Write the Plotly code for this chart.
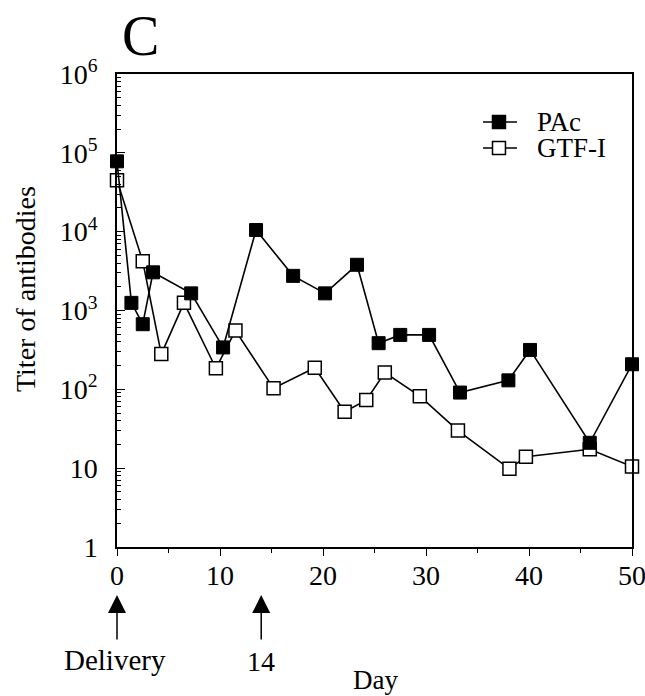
import plotly.graph_objects as go

# ---- data ----
pac_days = [0, 1.4, 2.5, 3.5, 7.2, 10.3, 13.5, 17.1, 20.2, 23.3, 25.4, 27.5, 30.3, 33.3, 38.0, 40.1, 45.9, 50]
pac_titer = [78000, 1250, 670, 3050, 1650, 340, 10500, 2750, 1650, 3800, 385, 490, 490, 91, 130, 316, 21, 208]

gtf_days = [0, 2.5, 4.3, 6.5, 9.6, 11.5, 15.2, 19.2, 22.1, 24.2, 26.0, 29.4, 33.1, 38.1, 39.7, 45.9, 50]
gtf_titer = [45000, 4200, 280, 1250, 185, 556, 103, 188, 52, 73, 163, 82, 30, 9.8, 14, 17.4, 10.5]

series_names = ["PAc", "GTF-I"]
x_ticks = [0, 10, 20, 30, 40, 50]
y_tickvals = [1, 10, 100, 1000, 10000, 100000, 1000000]
y_ticktext = ["1", "10", "10<sup>2</sup>", "10<sup>3</sup>", "10<sup>4</sup>", "10<sup>5</sup>", "10<sup>6</sup>"]

FONT = "Liberation Serif, Times New Roman, serif"
FS = 28

fig = go.Figure()
fig.add_trace(go.Scatter(
    x=gtf_days, y=gtf_titer, name=series_names[1], mode="lines+markers",
    line=dict(color="black", width=1.6),
    marker=dict(symbol="square", size=13, color="white", line=dict(color="black", width=1.5)),
    cliponaxis=False, showlegend=False,
))
fig.add_trace(go.Scatter(
    x=pac_days, y=pac_titer, name=series_names[0], mode="lines+markers",
    line=dict(color="black", width=1.6),
    marker=dict(symbol="square", size=13, color="black", line=dict(color="black", width=1)),
    cliponaxis=False, showlegend=False,
))

fig.update_layout(
    width=645, height=696,
    margin=dict(l=117, r=13, t=74, b=149, autoexpand=False),
    paper_bgcolor="white", plot_bgcolor="white",
    font=dict(family=FONT, size=FS, color="black"),
    showlegend=False,
    xaxis=dict(range=[0, 50], tickvals=x_ticks, ticks="outside", ticklen=7, tickwidth=1.3,
               tickcolor="black", showline=True, linecolor="black", linewidth=1.5, mirror=True,
               showgrid=False, zeroline=False, automargin=False, ticklabelstandoff=-4,
               ticklabeloverflow="allow",
               minor=dict(ticks="outside", ticklen=4, dtick=5, tickcolor="black", showgrid=False)),
    yaxis=dict(type="log", range=[0, 6], tickvals=y_tickvals, ticktext=y_ticktext,
               ticks="inside", ticklen=8, tickwidth=1.3, tickcolor="black",
               showline=True, linecolor="black", linewidth=1.5, mirror=True,
               showgrid=False, zeroline=False, ticklabelstandoff=12, automargin=False,
               ticklabeloverflow="allow",
               minor=dict(ticks="inside", ticklen=4, dtick="D1", tickcolor="black", showgrid=False)),
)

# ---- hand-drawn legend (keys + labels), placed in paper coordinates ----
legend_rows_y = [0.8985, 0.8436]
key_x0, key_x1, key_xc = 0.7107, 0.7767, 0.7417
half_w, half_h = 0.0126, 0.0137
fills = ["black", "white"]
shapes = []
for yy, fc in zip(legend_rows_y, fills):
    shapes.append(dict(type="line", xref="paper", yref="paper", x0=key_x0, x1=key_x1, y0=yy, y1=yy,
                       line=dict(color="black", width=1.6)))
    shapes.append(dict(type="rect", xref="paper", yref="paper",
                       x0=key_xc - half_w, x1=key_xc + half_w, y0=yy - half_h, y1=yy + half_h,
                       fillcolor=fc, line=dict(color="black", width=1.5)))
fig.update_layout(shapes=shapes)

annotations = [
    dict(text="C", xref="paper", yref="paper", x=0.045, y=1.080, showarrow=False,
         font=dict(size=56, family=FONT), xanchor="center", yanchor="middle"),
    dict(text="Titer of antibodies", xref="paper", yref="paper", x=-0.179, y=0.545,
         textangle=-90, showarrow=False, font=dict(size=FS, family=FONT),
         xanchor="center", yanchor="middle"),
    dict(text="Delivery", xref="paper", yref="paper", x=-0.004, y=-0.239, showarrow=False,
         font=dict(size=29, family=FONT), xanchor="center", yanchor="middle"),
    dict(text="14", xref="x", yref="paper", x=14, y=-0.243, showarrow=False,
         font=dict(size=FS, family=FONT), xanchor="center", yanchor="middle"),
    dict(text="Day", xref="paper", yref="paper", x=0.501, y=-0.2815, showarrow=False,
         font=dict(size=27, family=FONT), xanchor="center", yanchor="middle"),
]
for name, yy in zip(series_names, legend_rows_y):
    annotations.append(dict(text=name, xref="paper", yref="paper", x=0.8117, y=yy,
                            showarrow=False, font=dict(size=27, family=FONT),
                            xanchor="left", yanchor="middle"))
for d in [0, 14]:
    annotations.append(dict(text="", xref="x", yref="paper", x=d, y=-0.1015,
                            ax=0, ay=46, axref="pixel", ayref="pixel",
                            showarrow=True, arrowhead=2, arrowsize=2.4, arrowwidth=1.5,
                            arrowcolor="black"))
fig.update_layout(annotations=annotations)

fig.write_html("out.html", config={"displayModeBar": False},
               post_script="document.body.style.margin='0';document.body.style.overflow='hidden';")
